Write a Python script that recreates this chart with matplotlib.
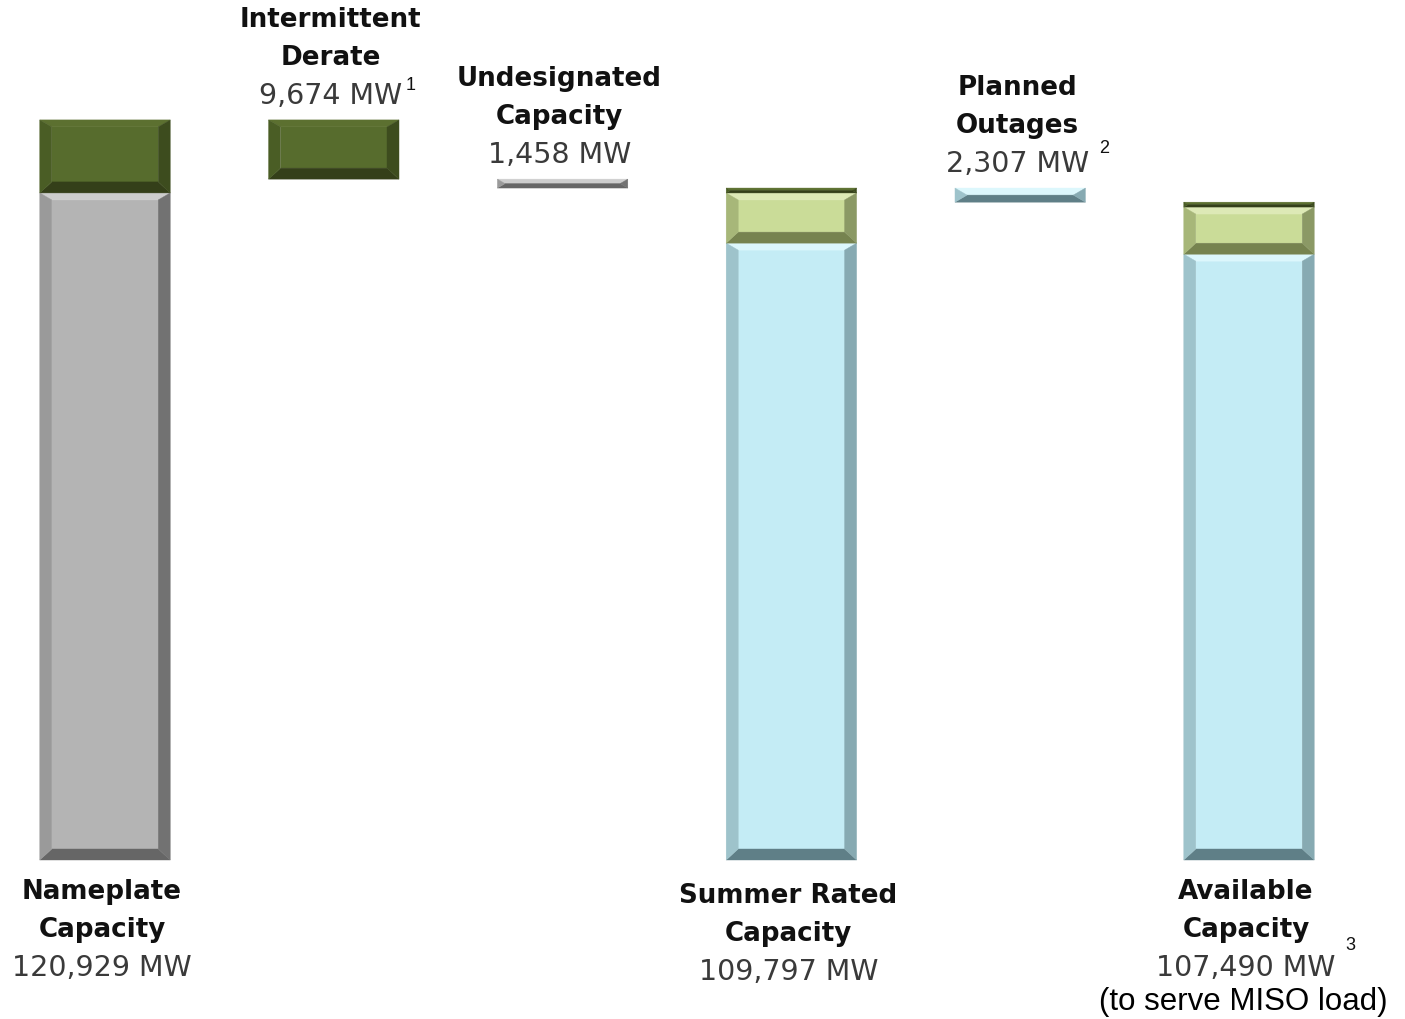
import matplotlib
matplotlib.use("Agg")
import matplotlib.pyplot as plt
from matplotlib.patches import Polygon

# ---- data (MW) ----
categories = ["Nameplate\nCapacity", "Intermittent\nDerate", "Undesignated\nCapacity",
              "Summer Rated\nCapacity", "Planned\nOutages", "Available\nCapacity"]
value_labels = ["120,929 MW", "9,674 MW", "1,458 MW", "109,797 MW", "2,307 MW", "107,490 MW"]
footnotes = ["", "1", "", "", "2", "3"]

nameplate_total = 120929
intermittent_derate = 9674
undesignated = 1458
summer_rated_total = 109797
planned_outages = 2307
available_total = 107490

# stacked composition of the total bars (bottom -> top)
nameplate_segments = [108999, 11930]            # conventional, intermittent
nameplate_kinds = ["gray", "dkgreen"]
summer_segments = [100797, 8200, 800]
summer_kinds = ["blue", "ltgreen", "dkgreen"]
available_segments = [98990, 7700, 800]
available_kinds = ["blue", "ltgreen", "dkgreen"]

# ---- styling ----
PALETTE = {
    "gray":    dict(face="#b4b4b4", top="#cdcdcd", left="#9a9a9a", right="#727272", bottom="#666666"),
    "dkgreen": dict(face="#576c2d", top="#5c7030", left="#4a5d25", right="#3d4c1e", bottom="#343f19"),
    "ltgreen": dict(face="#cadc98", top="#dde9b6", left="#a7b779", right="#8b9965", bottom="#76834f"),
    "blue":    dict(face="#c4ecf5", top="#dcf7fc", left="#9ec3cb", right="#87aab2", bottom="#5f7f87"),
}

W_PX, H_PX, DPI = 1405, 1019, 100
X0_PX, STEP_PX = 105, 228.8          # centre of first bar, spacing between bars
BASE_PX, PX_PER_MW = 860, 6.12 / 1000  # zero line (from top), vertical scale
BAR_W = 0.57
BEVEL_X = 12 / STEP_PX
BEVEL_Y = 11 / PX_PER_MW
BEVEL_TOP = 7 / PX_PER_MW

fig = plt.figure(figsize=(W_PX / DPI, H_PX / DPI), dpi=DPI)
fig.patch.set_facecolor("white")
ax = fig.add_axes([0, 0, 1, 1])
ax.set_xlim(-X0_PX / STEP_PX, (W_PX - X0_PX) / STEP_PX)
ax.set_ylim(-(H_PX - BASE_PX) / PX_PER_MW, BASE_PX / PX_PER_MW)
ax.axis("off")


def bevel_bar(x, y0, y1, kind):
    c = PALETTE[kind]
    xl, xr = x - BAR_W / 2, x + BAR_W / 2
    h = y1 - y0
    by = min(BEVEL_Y, h / 2)
    bt = min(BEVEL_TOP, h / 2)
    bx = BEVEL_X if h >= 2 * BEVEL_TOP else BEVEL_X * h / (2 * BEVEL_TOP)
    il, ir = xl + bx, xr - bx
    ib, it = y0 + by, y1 - bt
    polys = [
        ([(il, ib), (ir, ib), (ir, it), (il, it)], c["face"]),
        ([(xl, y1), (xr, y1), (ir, it), (il, it)], c["top"]),
        ([(xl, y0), (xr, y0), (ir, ib), (il, ib)], c["bottom"]),
        ([(xl, y0), (il, ib), (il, it), (xl, y1)], c["left"]),
        ([(xr, y0), (ir, ib), (ir, it), (xr, y1)], c["right"]),
    ]
    for pts, col in polys:
        ax.add_patch(Polygon(pts, closed=True, facecolor=col, edgecolor=col,
                             linewidth=0.3, joinstyle="miter"))


def stacked(x, segments, kinds):
    bottom = 0
    for v, k in zip(segments, kinds):
        bevel_bar(x, bottom, bottom + v, k)
        bottom += v


# total bars
stacked(0, nameplate_segments, nameplate_kinds)
stacked(3, summer_segments, summer_kinds)
stacked(5, available_segments, available_kinds)

# floating step bars
bevel_bar(1, nameplate_total - intermittent_derate, nameplate_total, "dkgreen")
bevel_bar(2, summer_rated_total, summer_rated_total + undesignated, "gray")
bevel_bar(4, available_total, available_total + planned_outages, "blue")

tops = [nameplate_total, nameplate_total, summer_rated_total + undesignated,
        summer_rated_total, available_total + planned_outages, available_total]
above = [False, True, True, False, True, False]

BOLD = dict(fontfamily="DejaVu Sans", fontweight="bold", fontsize=18.8, color="#111111")
NUM = dict(fontfamily="DejaVu Sans", fontsize=20.5, color="#3a3a3a")
LINE = 38

num_texts = []
for i, (cat, lab) in enumerate(zip(categories, value_labels)):
    lines = cat.split("\n")
    if above[i]:
        anchor = (i, tops[i])
        offs = [24 + LINE * (len(lines) - j) for j in range(len(lines))]
        num_off = 24
    else:
        anchor = (i, 0)
        dy = -4 if i == 3 else 0
        offs = [-32 - LINE * j + dy for j in range(len(lines))]
        num_off = -32 - LINE * len(lines) + dy
    for ln, off in zip(lines, offs):
        ax.annotate(ln, xy=anchor, xytext=(-3, off), textcoords="offset pixels",
                    ha="center", va="center", **BOLD)
    t = ax.annotate(lab, xy=anchor, xytext=(-3, num_off), textcoords="offset pixels",
                    ha="center", va="center", **NUM)
    num_texts.append(t)

ax.annotate("(to serve MISO load)", xy=(5, 0), xytext=(-6, -142), textcoords="offset pixels",
            ha="center", va="center", fontfamily="Liberation Sans", fontsize=22.5, color="#000000")

# footnote markers placed just after the value text
sup_shift = {"1": (3, 10), "2": (10, 16), "3": (10, 22)}
fig.canvas.draw()
renderer = fig.canvas.get_renderer()
for t, fn in zip(num_texts, footnotes):
    if not fn:
        continue
    bb = t.get_window_extent(renderer)
    dx, dy = sup_shift[fn]
    fig.text((bb.x1 + dx) / W_PX, ((bb.y0 + bb.y1) / 2 + dy) / H_PX, fn,
             ha="left", va="center", fontfamily="Liberation Sans", fontsize=13, color="#111111")

fig.savefig("out.png", dpi=DPI, facecolor="white")
